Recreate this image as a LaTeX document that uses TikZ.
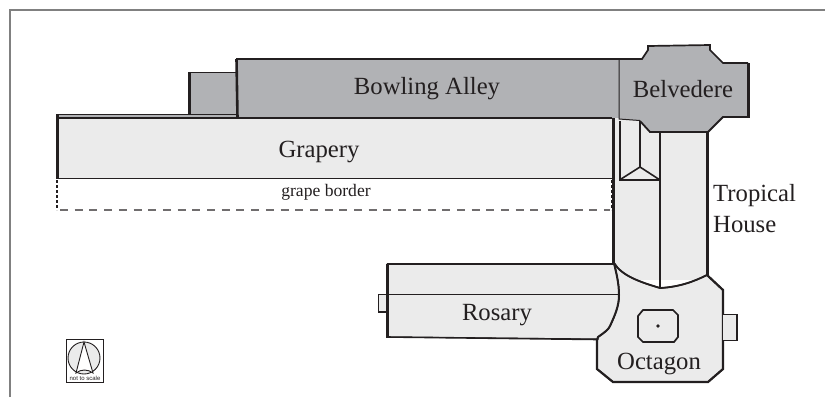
\documentclass[tikz,border=0pt]{standalone}
\usepackage{fontspec}
\setmainfont{Liberation Serif}
\setsansfont{Liberation Sans}
\definecolor{ink}{HTML}{231F20}
\definecolor{darkroom}{HTML}{B1B2B5}
\definecolor{lightroom}{HTML}{EBEBEB}
\definecolor{framegrey}{HTML}{808080}
\tikzset{
  dark/.style={fill=darkroom,draw=ink,line width=1pt},
  light/.style={fill=lightroom,draw=ink,line width=1pt},
  thin wall/.style={draw=ink,line width=1pt},
  mid wall/.style={draw=ink,line width=2pt},
  thick wall/.style={draw=ink,line width=3.2pt},
  label/.style={text=ink,inner sep=0pt,font=\fontsize{24.7}{31}\selectfont},
  small label/.style={text=ink,inner sep=0pt,font=\fontsize{17.6}{20}\selectfont},
}
\begin{document}
\begin{tikzpicture}[x=1pt,y=-1pt]
\useasboundingbox (0,0) rectangle (825,397);
% frame
\draw[framegrey,line width=1.3pt] (10,397) -- (10,10) -- (825,10);
% grape border
\draw[ink,line width=1.2pt,dash pattern=on 2.5pt off 2.5pt] (57,180) -- (57,210);
\draw[ink,line width=1.2pt,dash pattern=on 2.5pt off 2.5pt] (612,180) -- (612,210);
\draw[ink!65,line width=1.1pt,dash pattern=on 8pt off 6.7pt] (60,210) -- (610,210);
% annex and strip
\fill[darkroom] (57,114) rectangle (237,118);
\fill[darkroom] (189,72) rectangle (237,114);
\draw[ink,line width=1.1pt] (57,114.5) -- (237,114.5);
\draw[ink,line width=1.6pt] (237,72.5) -- (189,72.5);
\draw[thick wall,line width=2.6pt] (189.5,72) -- (189.5,114);
% Bowling alley
\fill[darkroom] (237,59) rectangle (619,118);
\draw[ink,line width=1.5pt] (619,59) -- (236,59);
\draw[thick wall,line width=2.6pt] (236.5,59) -- (237.5,118);
% Grapery
\fill[lightroom] (57,118) rectangle (612,179);
\draw[ink,line width=1.1pt] (57,118) -- (612,118);
\draw[ink,line width=1.6pt] (57,178.5) -- (612,178.5);
\draw[thick wall] (57.5,114) -- (57.5,179);
% Tropical house
\fill[lightroom] (613,118) rectangle (708,280);
% Octagon
\filldraw[light,line width=1.5pt] (597,338) -- (598,337) .. controls (605,332) and (608,330) .. (610,326)
   .. controls (615,315) and (619,306) .. (619,295) .. controls (619,283) and (616,272) .. (614,263)
   .. controls (622,276) and (640,282) .. (660,288) .. controls (680,287) and (695,281) .. (707,275)
   -- (723,290) -- (723,369) -- (708,382) -- (613,382) -- (597,369) -- cycle;
\draw[thin wall,line width=1.8pt] (614,263) .. controls (622,276) and (640,282) .. (660,288) .. controls (680,287) and (695,281) .. (707,275);
\draw[ink,line width=2.2pt] (707,275) -- (723,290) -- (723,369) -- (708,382) -- (613,382) -- (597,369) -- (597,338);
% Octagon tab
\fill[lightroom] (723,314) rectangle (737,341);
\draw[ink,line width=1.2pt] (723,314.5) -- (737,314.5);
\draw[ink,line width=1.2pt] (723,340.5) -- (737,340.5);
\draw[thick wall,line width=2.4pt] (737,314) -- (737,341.1);
% inner square
\draw[mid wall,line width=1.7pt] (643,310) -- (673,310) -- (678,315) -- (678,337) -- (674,342) -- (643,342) -- (638,337) -- (638,316) -- cycle;
\fill[ink] (658,326) circle (1.9);
% Tropical house walls
\draw[thick wall,line width=2.8pt] (613.5,118) -- (613.5,264);
\draw[mid wall] (660,132) -- (660,288);
\draw[thick wall,line width=2.6pt] (707.5,132) -- (707.5,276);
% small structure
\draw[mid wall] (619.5,121) -- (619.5,180) -- (660,180);
\draw[mid wall,line width=1.6pt] (640,121) -- (640,167) -- (619.5,180);
\draw[mid wall,line width=1.6pt] (640,167) -- (660,180);
% Belvedere
\fill[darkroom] (619,59) -- (642,59) -- (648,50) -- (648,46) -- (710,45) -- (710,50) -- (723,63) -- (749,63) -- (749,117) -- (723,117) -- (708,132) -- (650,132) -- (640,121) -- (619,119) -- cycle;
\draw[ink,line width=1pt] (619,59) -- (619,119) -- (640,120.5);
\draw[ink,line width=1.7pt] (619,59) -- (642,59) -- (648,50) -- (648,46) -- (710,45) -- (710,50) -- (723,63) -- (748,63);
\draw[thick wall,line width=2.8pt] (748.5,63) -- (748.5,118);
\draw[ink,line width=1.8pt] (749,117) -- (723,117) -- (708,132) -- (650,132) -- (640,121);
% Rosary
\filldraw[light] (387,264) -- (614,264) .. controls (616,272) and (619,283) .. (619,295) .. controls (619,306) and (615,315) .. (610,326) .. controls (608,330) and (605,332) .. (598,337) -- (598,339) -- (387,337) -- cycle;
\draw[ink,line width=1.5pt] (387,264) -- (614,264);
\draw[ink,line width=1.2pt] (387,294.5) -- (618,294.5);
\draw[ink,line width=1.6pt] (387,337) -- (598,339.5);
\draw[ink,line width=2pt] (614,263) .. controls (616,272) and (619,283) .. (619,295) .. controls (619,306) and (615,315) .. (610,326) .. controls (608,330) and (605,332) .. (598,337) -- (597,340);
\draw[thick wall,line width=2.6pt] (387.5,264) -- (387.5,338);
\filldraw[fill=lightroom,draw=ink,line width=1.3pt] (386,294.5) -- (378.5,294.5) -- (378.5,312) -- (386,312);
% Compass
\draw[ink,line width=0.9pt] (66,339) rectangle (103,382);
\filldraw[fill=lightroom,draw=ink,line width=0.9pt] (84,358) circle (16);
\filldraw[fill=white,draw=ink,line width=0.9pt] (84,342) -- (76,373) .. controls (81,369) and (88,369) .. (93,373) -- cycle;
\node[inner sep=0pt,text=ink,font=\sffamily\fontsize{6}{7}\selectfont] (scale) at (85,378) {not to scale};
% Labels
\node[label,anchor=base] (bowling) at (427,94) {Bowling Alley};
\node[label,anchor=base] (belvedere) at (683,97) {Belvedere};
\node[label,anchor=base] (grapery) at (319,157) {Grapery};
\node[small label,anchor=base] (border) at (326,196) {grape border};
\node[label,align=left,anchor=base west] (tropical) at (713,232) {Tropical\\House};
\node[label,anchor=base] (rosary) at (497,320) {Rosary};
\node[label,anchor=base] (octagon) at (659,369) {Octagon};
\end{tikzpicture}
\end{document}
